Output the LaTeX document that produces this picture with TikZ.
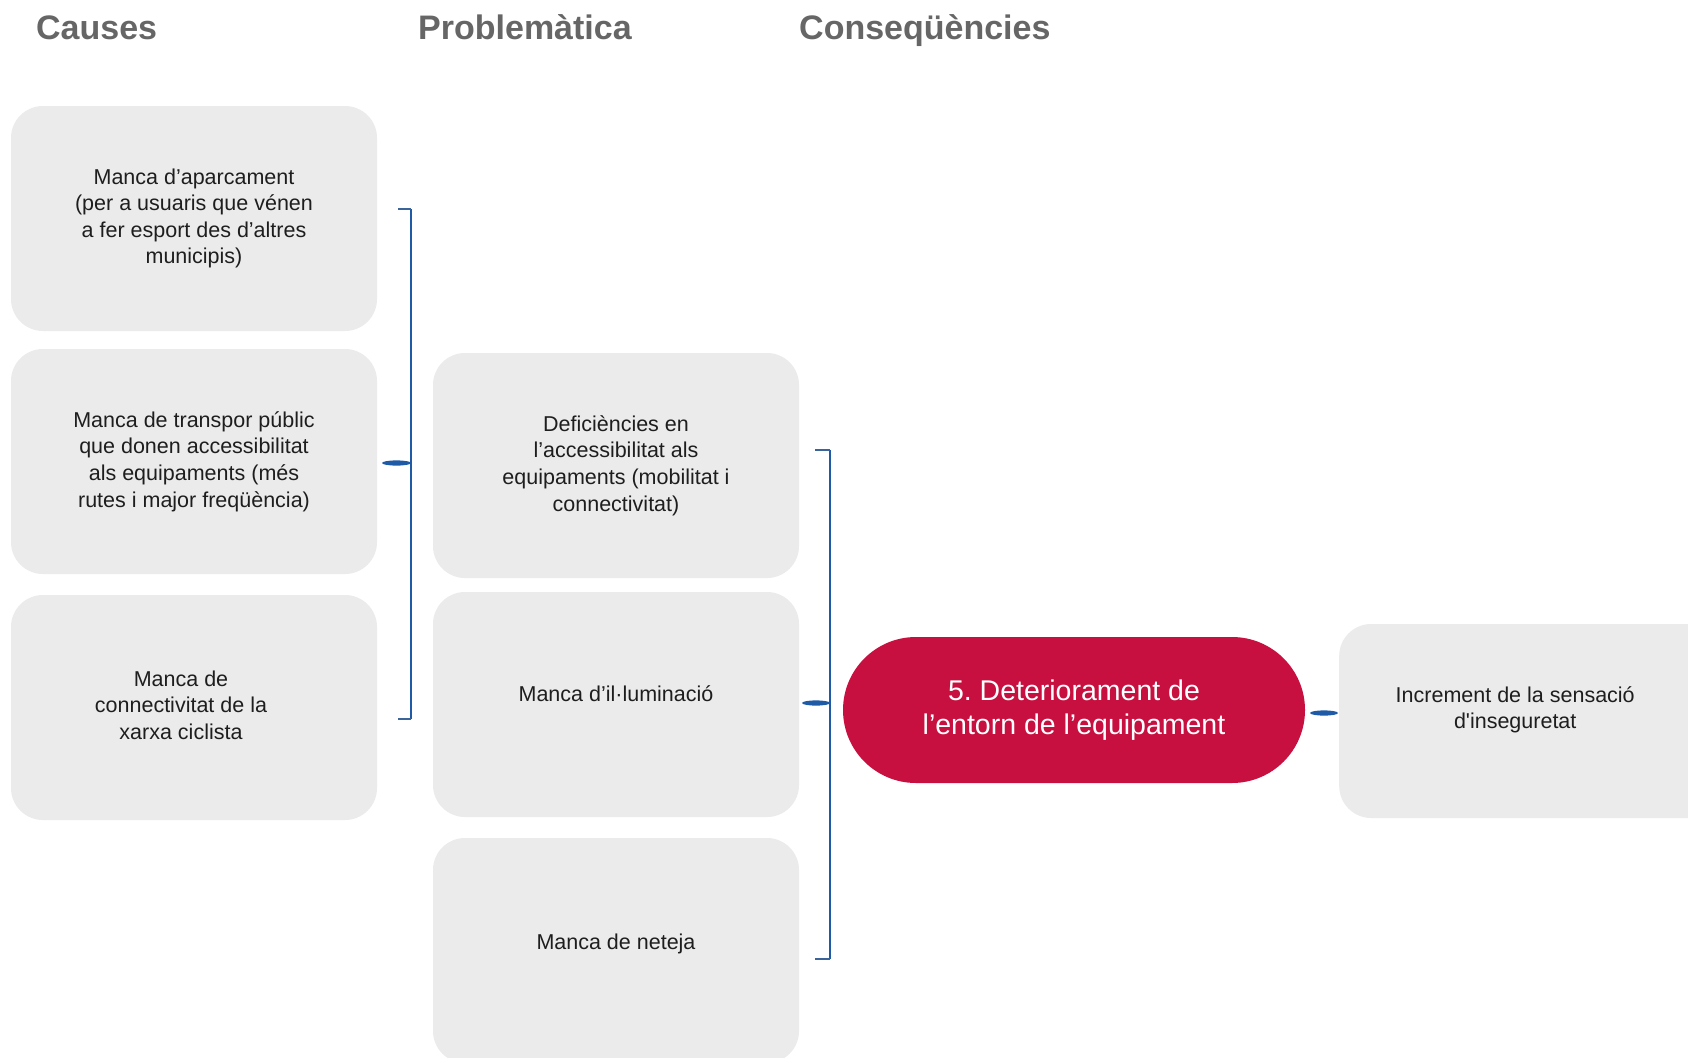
\documentclass[tikz,border=0pt]{standalone}
\usepackage{fontspec}
\setmainfont{Liberation Sans}
\usetikzlibrary{shapes.geometric,calc}
\definecolor{boxgray}{RGB}{235,235,235}
\definecolor{txtgray}{RGB}{30,30,30}
\definecolor{headgray}{RGB}{102,102,102}
\definecolor{mainred}{RGB}{200,16,64}
\definecolor{lineblue}{RGB}{30,90,165}
\begin{document}
\begin{tikzpicture}[x=1pt,y=-1pt,
  heading/.style={anchor=base west,inner sep=0pt,text=headgray,font=\fontsize{34}{40}\selectfont\bfseries},
  greybox/.style={fill=boxgray,rounded corners=32pt,minimum width=366pt,minimum height=225pt,inner sep=0pt,align=center,text=txtgray,font=\fontsize{21.5}{26.6}\selectfont},
  mainbox/.style={fill=mainred,rounded corners=73pt,minimum width=462pt,minimum height=146pt,inner sep=0pt,align=center,text=white,font=\fontsize{28.5}{34.5}\selectfont},
  bracketline/.style={draw=lineblue,line width=2.6pt},
  endtick/.style={draw=lineblue!70!gray,line width=1.2pt},
  midtick/.style={fill=lineblue}
]
\useasboundingbox (0,0) rectangle (1688,1057);
\clip (0,0) rectangle (1688,1057);
\fill[white] (0,0) rectangle (1688,1057);

% headings
\node[heading] (hcauses) at (36,40) {Causes};
\node[heading] (hprob) at (418,40) {Problemàtica};
\node[heading] (hcons) at (799,40) {Conseqüències};

% causes
\node[greybox] (c1) at (194,218.5) {Manca d’aparcament\\(per a usuaris que vénen\\a fer esport des d’altres\\municipis)};
\node[greybox] (c2) at (194,461.5) {Manca de transpor públic\\que donen accessibilitat\\als equipaments (més\\rutes i major freqüència)};
\node[greybox] (c3) at (194,707.5) {\begin{tabular}{@{}c@{}}Manca de\\connectivitat de la\\xarxa ciclista\end{tabular}\hspace*{26pt}};

% problems
\node[greybox] (p1) at (616,465.5) {Deficiències en\\l’accessibilitat als\\equipaments (mobilitat i\\connectivitat)};
\node[greybox] (p2) at (616,704.5) {\raisebox{11pt}[\height][\depth]{Manca d’il·luminació}};
\node[greybox] (p3) at (616,950.5) {\raisebox{6.5pt}[\height][\depth]{Manca de neteja}};

% main
\node[mainbox] (main) at (1074,710) {5.\ Deteriorament de\\l’entorn de l’equipament};

% consequence
\node[greybox,minimum width=400pt,minimum height=194pt,anchor=west] (cons) at (1339,721)
  {\raisebox{11pt}[\height][\depth]{\parbox{352pt}{\centering Increment de la sensació\\d\textquotesingle inseguretat}}\hspace*{48pt}};

% bracket 1 (causes -> p1)
\coordinate (b1top) at (411,209);
\coordinate (b1bot) at (411,719);
\coordinate (b1mid) at (411,463);
\draw[bracketline] (b1top) -- (b1bot);
\draw[endtick] (b1top) -- ++(-13,0);
\draw[endtick] (b1bot) -- ++(-13,0);
\fill[midtick] ([xshift=-14.5pt]b1mid) ellipse [x radius=14.5pt, y radius=2.6pt];

% bracket 2 (problems -> main)
\coordinate (b2top) at (830,450);
\coordinate (b2bot) at (830,959);
\coordinate (b2mid) at (830,703);
\draw[bracketline] (b2top) -- (b2bot);
\draw[endtick] (b2top) -- ++(-15,0);
\draw[endtick] (b2bot) -- ++(-15,0);
\fill[midtick] ([xshift=-14pt]b2mid) ellipse [x radius=14pt, y radius=2.6pt];

% main -> consequence
\coordinate (rtick) at (1324,713);
\fill[midtick] (rtick) ellipse [x radius=14pt, y radius=2.6pt];
\end{tikzpicture}
\end{document}
